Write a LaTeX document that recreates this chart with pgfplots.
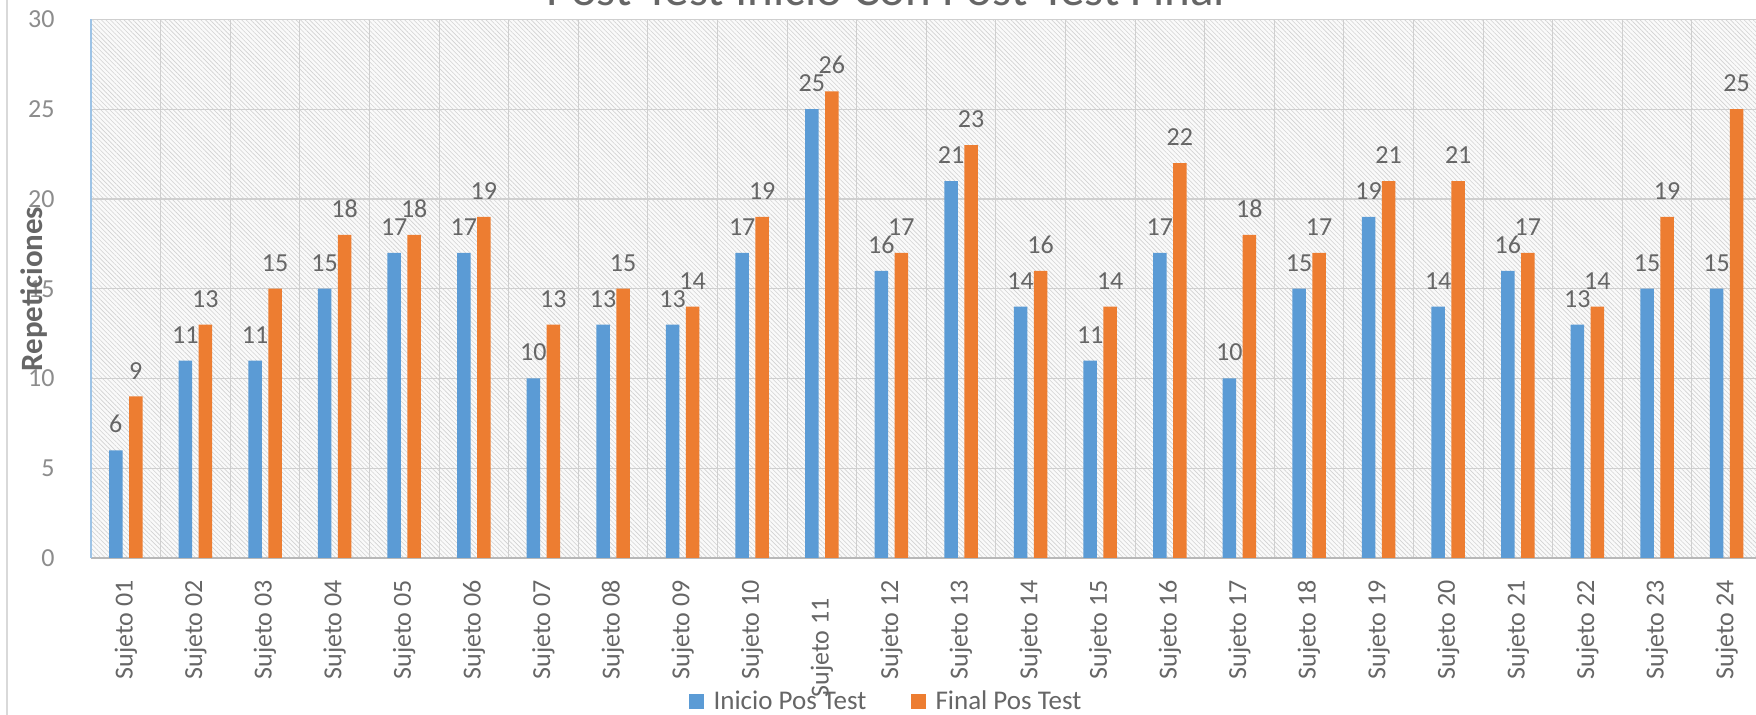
\documentclass[border=0pt]{standalone}
\usepackage{fontspec}
\setmainfont{Carlito}
\usepackage{pgfplots}
\usepackage{pgfplotstable}
\pgfplotsset{compat=1.18}
\usetikzlibrary{patterns.meta}

\definecolor{inicio}{HTML}{5B9BD5}
\definecolor{final}{HTML}{ED7D31}
\definecolor{txt}{HTML}{666666}
\definecolor{ticktxt}{HTML}{8C8C8C}
\definecolor{gridc}{HTML}{CFCFCF}
\definecolor{hatch}{HTML}{D2D2D2}
\definecolor{yaxisc}{HTML}{9DC3E6}

% Repeticiones por sujeto: inicio y final del post-test
\pgfplotstableread{
idx inicio final
0  6  9
1  11 13
2  11 15
3  15 18
4  17 18
5  17 19
6  10 13
7  13 15
8  13 14
9  17 19
10 25 26
11 16 17
12 21 23
13 14 16
14 11 14
15 17 22
16 10 18
17 15 17
18 19 21
19 14 21
20 16 17
21 13 14
22 15 19
23 15 25
}\datos

\begin{document}
\begin{tikzpicture}
\useasboundingbox (0,0) rectangle (878pt,357.5pt);
\clip (0,0) rectangle (878pt,357.5pt);
\fill[white] (0,0) rectangle (878pt,357.5pt);
\draw[color=black!15, line width=0.6pt] (3.5pt,0) -- (3.5pt,357.5pt);
\node[anchor=base, inner sep=0pt, font=\fontsize{24.5}{29}\selectfont, text=txt]
  at (443pt,354.5pt) {Post-Test Inicio Con Post-Test Final};
\begin{axis}[
  at={(45.5pt,78.5pt)}, anchor=south west,
  scale only axis, width=835.2pt, height=269.25pt,
  ybar=3.25pt, bar width=6.75pt,
  xmin=-0.5, xmax=23.5, ymin=0, ymax=30,
  xtick={0,...,23},
  xticklabels={Sujeto 01,Sujeto 02,Sujeto 03,Sujeto 04,Sujeto 05,Sujeto 06,Sujeto 07,Sujeto 08,Sujeto 09,Sujeto 10,Sujeto 11\hspace*{9pt},Sujeto 12,Sujeto 13,Sujeto 14,Sujeto 15,Sujeto 16,Sujeto 17,Sujeto 18,Sujeto 19,Sujeto 20,Sujeto 21,Sujeto 22,Sujeto 23,Sujeto 24},
  ytick={0,5,...,30},
  minor xtick={-0.5,0.5,...,23.5},
  xminorgrids=true, ymajorgrids=true,
  major grid style={draw=gridc, line width=0.6pt},
  minor grid style={draw=gridc, line width=0.5pt},
  major tick length=0pt, minor tick length=0pt,
  axis x line*=bottom, axis y line*=left,
  axis line style={-},
  x axis line style={draw=black!28, line width=0.6pt},
  y axis line style={draw=yaxisc, line width=0.6pt},
  axis background/.style={fill=black!2, postaction={pattern={Lines[angle=-45,distance=1.6pt,line width=0.3pt]}, pattern color=hatch}},
  /pgf/number format/assume math mode=true,
  tick label style={font=\fontsize{13}{15.6}\selectfont},
  yticklabel style={anchor=east, inner sep=0pt, xshift=-18pt, text=ticktxt},
  xticklabel style={yshift=-11pt, rotate=90, anchor=east, inner sep=0pt, text=txt},
  nodes near coords,
  every node near coord/.append style={font=\fontsize{13}{15.6}\selectfont, text=txt, inner sep=1pt, yshift=7.5pt},
  ylabel={Repeticiones},
  ylabel style={at={(axis description cs:-0.034,0.4995)}, anchor=center, font=\bfseries\fontsize{15.5}{18}\selectfont, text=txt},
  legend style={at={(axis description cs:0.4765,-0.2674)}, anchor=center, draw=none, fill=none,
    legend columns=2, font=\fontsize{13.5}{16}\selectfont, text=txt,
    /tikz/every odd column/.append style={column sep=3pt},
    /tikz/every even column/.append style={column sep=20pt}},
  legend image code/.code={\fill[#1] (0pt,-3.75pt) rectangle (7.5pt,3.75pt);},
]
\addplot[fill=inicio, draw=none] table[x=idx, y=inicio] {\datos};
\addlegendentry{Inicio Pos Test}
\addplot[fill=final, draw=none] table[x=idx, y=final] {\datos};
\addlegendentry{Final Pos Test}
\end{axis}
\end{tikzpicture}
\end{document}
